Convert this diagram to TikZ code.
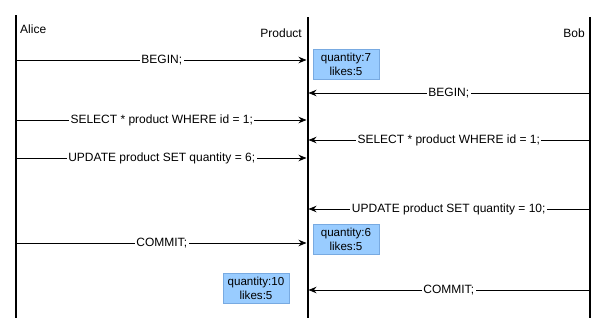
\documentclass[tikz,border=0pt]{standalone}
\usepackage{fontspec}
\setmainfont{Liberation Sans}
\usetikzlibrary{positioning, arrows.meta}
\definecolor{stateblue}{RGB}{153,204,255}
\definecolor{stateedge}{RGB}{120,170,225}

\begin{document}
\begin{tikzpicture}[x=1pt, y=-1pt,
        life/.style={line width=2pt},
        msg/.style={-{Stealth[length=8pt, width=6.5pt]}, line width=0.9pt, shorten >=1pt},
        lbl/.style={fill=white, inner sep=1.5pt, font=\fontsize{12}{14}\selectfont},
        who/.style={inner sep=0pt, font=\fontsize{12}{14}\selectfont},
        state/.style={draw=stateedge, fill=stateblue, align=center, minimum width=66pt, minimum height=30pt, inner sep=1pt, font=\fontsize{11.6}{14}\selectfont}
    ]
    \useasboundingbox (0,0) rectangle (606,335);

    % lifelines
    \coordinate (alice top) at (16,15);
    \coordinate (alice end) at (16,318);
    \coordinate (prod top) at (307.5,17);
    \coordinate (prod end) at (307.5,318);
    \coordinate (bob top) at (590,17);
    \coordinate (bob end) at (590,318);
    \draw[life] (alice top) -- (alice end);
    \draw[life] (prod top) -- (prod end);
    \draw[life] (bob top) -- (bob end);

    \node[who, anchor=west] (alice) at (20,29) {Alice};
    \node[who, anchor=east] (prod) at (302,33) {Product};
    \node[who, anchor=east] (bob) at (585,33) {Bob};

    % messages
    \draw[msg] (alice top |- 0,60) -- node[lbl] {BEGIN;} (prod top |- 0,60);
    \draw[msg] (bob top |- 0,93) -- node[lbl] {BEGIN;} (prod top |- 0,93);
    \draw[msg] (alice top |- 0,120) -- node[lbl] {SELECT * product WHERE id = 1;} (prod top |- 0,120);
    \draw[msg] (bob top |- 0,140) -- node[lbl] {SELECT * product WHERE id = 1;} (prod top |- 0,140);
    \draw[msg] (alice top |- 0,158) -- node[lbl] {UPDATE product SET quantity = 6;} (prod top |- 0,158);
    \draw[msg] (bob top |- 0,209) -- node[lbl] {UPDATE product SET quantity = 10;} (prod top |- 0,209);
    \draw[msg] (alice top |- 0,243) -- node[lbl] {COMMIT;} (prod top |- 0,243);
    \draw[msg] (bob top |- 0,290) -- node[lbl] {COMMIT;} (prod top |- 0,290);

    % row states
    \node[state] (state7) at (346,64) {quantity:7\\likes:5};
    \node[state] (state6) at (346,239.5) {quantity:6\\likes:5};
    \node[state] (state10) at (256,288) {quantity:10\\likes:5};
\end{tikzpicture}
\end{document}
